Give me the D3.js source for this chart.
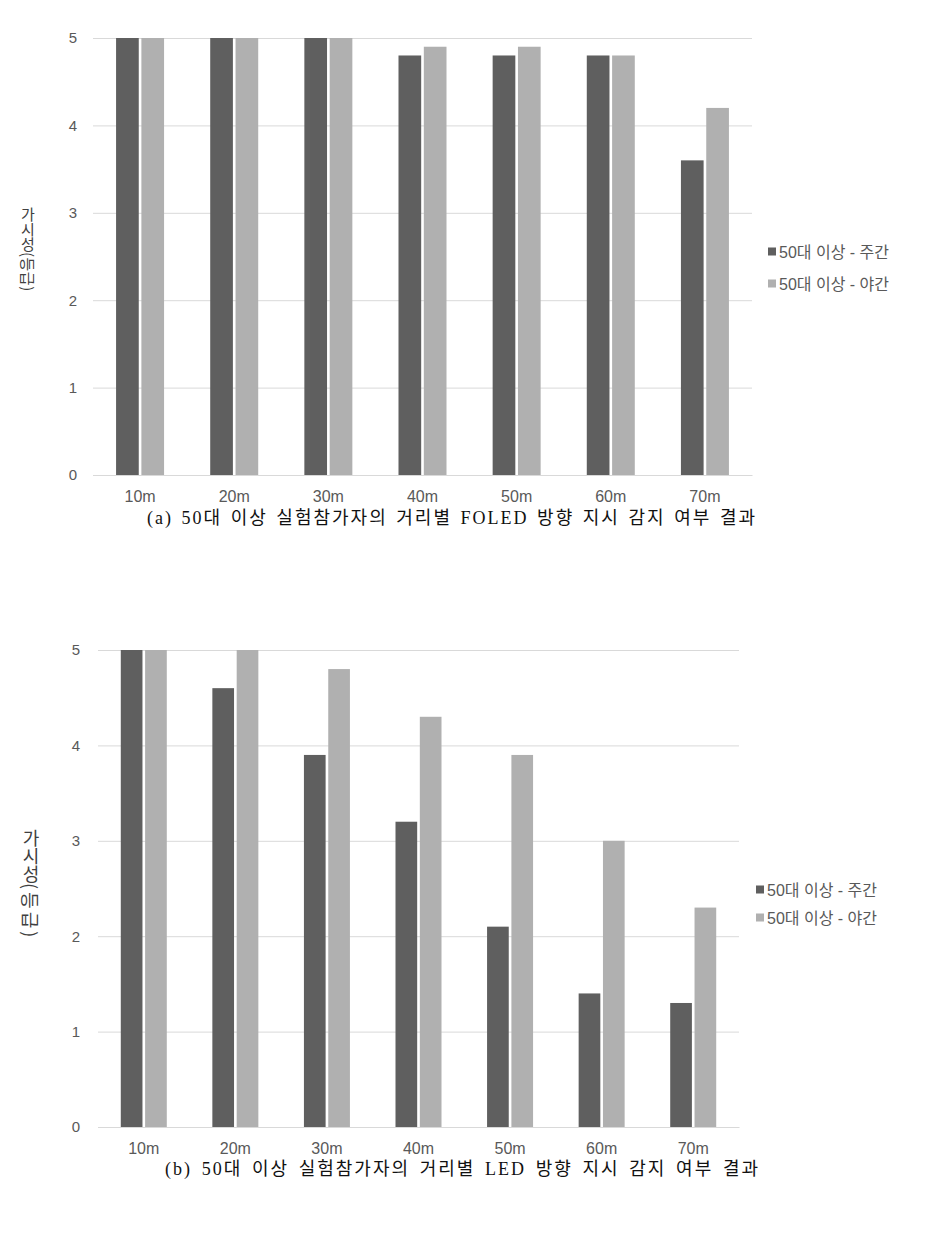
<!DOCTYPE html>
<meta charset="utf-8">
<head>
<style>
body { margin: 0; background: #fff; }
svg { display: block; }
.tick text, .legend text {
  font-family: "Liberation Sans", "Noto Sans CJK KR", sans-serif;
  fill: #595959;
}
.ylabel {
  font-family: "Noto Sans CJK KR", sans-serif;
  fill: #404040;
  writing-mode: vertical-rl;
  text-orientation: upright;
}
.ylabel .side { text-orientation: sideways; }
.caption {
  font-family: "Liberation Serif", "Noto Sans CJK KR", serif;
  font-size: 18px;
  fill: #111;
}
</style>
</head>
<body>
<svg width="952" height="1242"></svg>
<script src="https://cdn.jsdelivr.net/npm/d3@7"></script>
<script>

var distances = ["10m", "20m", "30m", "40m", "50m", "60m", "70m"],
    seriesNames = ["50대 이상 - 주간", "50대 이상 - 야간"],
    yTicks = [0, 1, 2, 3, 4, 5];

// (a) FOLED
var foledDay = [5, 5, 5, 4.8, 4.8, 4.8, 3.6],
    foledNight = [5, 5, 5, 4.9, 4.9, 4.8, 4.2];

// (b) LED
var ledDay = [5, 4.6, 3.9, 3.2, 2.1, 1.4, 1.3],
    ledNight = [5, 5, 4.8, 4.3, 3.9, 3.0, 2.3];

var captions = [
  "(a) 50대 이상 실험참가자의 거리별 FOLED 방향 지시 감지 여부 결과",
  "(b) 50대 이상 실험참가자의 거리별 LED 방향 지시 감지 여부 결과"
];

var colors = ["#5f5f5f", "#b0b0b0"];

var svg = d3.select("svg");

function drawChart(o) {
  var g = svg.append("g");

  var x = d3.scaleBand().domain(distances).range([o.left, o.right]),
      y = d3.scaleLinear().domain([0, 5]).range([o.bottom, o.top]);

  // gridlines + y ticks
  g.append("g")
    .attr("transform", "translate(" + o.left + ",0)")
    .call(d3.axisLeft(y).tickValues(yTicks).tickFormat(d3.format("d"))
      .tickSize(-(o.right - o.left)).tickPadding(o.tickPad))
    .call(function(a) {
      a.select(".domain").remove();
      a.selectAll(".tick line").attr("stroke", "#d9d9d9");
      a.selectAll(".tick text").attr("font-size", o.fs);
    });

  var sub = d3.scaleBand().domain([0, 1]).range([0, o.pair]).paddingInner(o.gap / o.pair);

  [o.day, o.night].forEach(function(vals, si) {
    g.append("g").selectAll("rect")
      .data(vals)
      .enter().append("rect")
        .attr("x", function(d, i) { return x(distances[i]) + (x.bandwidth() - o.pair) / 2 + sub(si); })
        .attr("y", function(d) { return y(d); })
        .attr("width", sub.bandwidth())
        .attr("height", function(d) { return y(0) - y(d); })
        .attr("fill", colors[si]);
  });

  g.append("g")
    .attr("transform", "translate(0," + o.bottom + ")")
    .call(d3.axisBottom(x).tickSize(0).tickPadding(o.xPad))
    .call(function(a) {
      a.select(".domain").attr("stroke", "#d9d9d9");
      a.selectAll(".tick text").attr("font-size", o.xFs);
    });

  // vertical axis title: hangul upright, "(등급)" turned sideways
  var yl = g.append("text")
    .attr("class", "ylabel")
    .attr("x", o.ylX)
    .attr("y", o.ylY)
    .attr("font-size", o.ylFs);
  yl.append("tspan").text("가시성");
  yl.append("tspan").attr("class", "side").attr("letter-spacing", o.ylLs).text("(등급)");

  // legend
  var lg = g.append("g").attr("class", "legend");
  seriesNames.forEach(function(n, i) {
    var ly = o.legY + i * o.legStep;
    lg.append("rect")
      .attr("x", o.legX).attr("y", ly - 4.5)
      .attr("width", 8).attr("height", 8)
      .attr("fill", colors[i]);
    lg.append("text")
      .attr("x", o.legX + 11).attr("y", ly)
      .attr("dy", "0.35em")
      .attr("font-size", o.legFs)
      .text(n);
  });

  // caption, word gaps widened to the reference width
  var cap = svg.append("text")
    .attr("class", "caption")
    .attr("x", o.capX0).attr("y", o.capY)
    .attr("letter-spacing", 2)
    .text(o.caption);
  var spaces = o.caption.split(" ").length - 1,
      w = cap.node().getComputedTextLength();
  cap.attr("word-spacing", Math.max(0, (o.capX1 - o.capX0 - w) / spaces));
}

drawChart({
  left: 93, right: 752, top: 38, bottom: 475,
  day: foledDay, night: foledNight,
  pair: 48, gap: 5, fs: 15, xFs: 16, tickPad: 16, xPad: 16,
  ylX: 28, ylY: 207, ylFs: 15, ylLs: 0.5,
  legX: 768, legY: 252, legStep: 32, legFs: 16,
  caption: captions[0], capX0: 147, capX1: 757, capY: 524
});

drawChart({
  left: 98, right: 739, top: 650, bottom: 1127,
  day: ledDay, night: ledNight,
  pair: 46, gap: 5, fs: 15, xFs: 16, tickPad: 18, xPad: 16,
  ylX: 31, ylY: 829, ylFs: 18, ylLs: 3,
  legX: 756, legY: 890, legStep: 28, legFs: 16,
  caption: captions[1], capX0: 165, capX1: 760, capY: 1175
});

</script>
</body>
